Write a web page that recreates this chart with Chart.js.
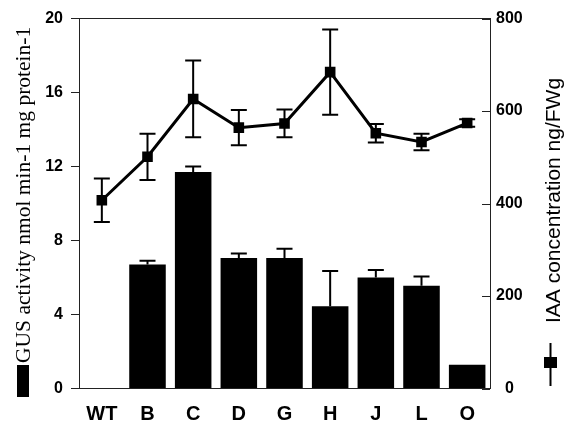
<!DOCTYPE html>
<html>
<head>
<meta charset="utf-8">
<script src="https://cdn.jsdelivr.net/npm/chart.js@4"></script>
<style>
    body { margin: 0; background: #fff; }
    #wrap { width: 569px; height: 424px; }
</style>
</head>
<body>
<div id="wrap"><canvas id="gusChart" width="569" height="424"></canvas></div>
<script>
// data
const categories = ['WT', 'B', 'C', 'D', 'G', 'H', 'J', 'L', 'O'];
const gusActivity = [null, 6.7, 11.7, 7.05, 7.05, 4.45, 6.0, 5.55, 1.28];
const gusError = [null, 0.2, 0.3, 0.25, 0.5, 1.9, 0.4, 0.5, 0];
const iaaConc = [407, 501, 626, 564, 573, 684, 552, 533, 574];
const iaaError = [47, 50, 83, 38, 30, 92, 20, 18, 8];
const gusTicks = [0, 4, 8, 12, 16, 20];
const iaaTicks = [0, 200, 400, 600, 800];

const gusTitle = 'GUS activity nmol min-1 mg protein-1';
const iaaTitle = 'IAA concentration ng/FWg';

// error bars, inner ticks, axis titles with legend keys
const extrasPlugin = {
    id: 'extras',
    afterDatasetDraw(chart, args) {
        const ctx = chart.ctx;
        const meta = args.meta;
        const isBar = meta.type === 'bar';
        const scale = chart.scales[isBar ? 'y' : 'y2'];
        const values = isBar ? gusActivity : iaaConc;
        const errs = isBar ? gusError : iaaError;
        ctx.save();
        ctx.strokeStyle = '#000';
        ctx.lineWidth = 2;
        meta.data.forEach((el, i) => {
            if (values[i] == null || !errs[i]) return;
            const x = el.x;
            const yTop = scale.getPixelForValue(values[i] + errs[i]);
            const yBot = isBar ? el.y : scale.getPixelForValue(values[i] - errs[i]);
            ctx.beginPath();
            ctx.moveTo(x, yBot);
            ctx.lineTo(x, yTop);
            ctx.moveTo(x - 8, yTop);
            ctx.lineTo(x + 8, yTop);
            if (!isBar) {
                ctx.moveTo(x - 8, yBot);
                ctx.lineTo(x + 8, yBot);
            }
            ctx.stroke();
        });
        ctx.restore();
    },
    afterDraw(chart) {
        const ctx = chart.ctx;
        const area = chart.chartArea;
        const y2 = chart.scales.y2;
        ctx.save();
        ctx.strokeStyle = '#222';
        ctx.lineWidth = 1;
        // top frame line
        ctx.beginPath();
        ctx.moveTo(area.left, area.top);
        ctx.lineTo(area.right, area.top);
        ctx.stroke();
        // right axis ticks point inward
        iaaTicks.forEach(v => {
            const y = Math.round(y2.getPixelForValue(v)) + 0.5;
            ctx.beginPath();
            ctx.moveTo(area.right - 8, y);
            ctx.lineTo(area.right, y);
            ctx.stroke();
        });

        ctx.fillStyle = '#000';
        // left title + bar key
        ctx.save();
        ctx.translate(29.5, 363);
        ctx.rotate(-Math.PI / 2);
        ctx.font = '21.5px "Liberation Serif", serif';
        ctx.textAlign = 'left';
        ctx.textBaseline = 'alphabetic';
        ctx.fillText(gusTitle, 0, 0);
        ctx.restore();
        ctx.fillRect(17, 365, 12, 32);

        // right title + line key
        ctx.save();
        ctx.translate(560, 323);
        ctx.rotate(-Math.PI / 2);
        ctx.font = '21px "Liberation Sans", Arial, sans-serif';
        ctx.textAlign = 'left';
        ctx.textBaseline = 'alphabetic';
        ctx.fillText(iaaTitle, 0, 0);
        ctx.restore();
        ctx.strokeStyle = '#000';
        ctx.lineWidth = 2;
        ctx.beginPath();
        ctx.moveTo(550.5, 343);
        ctx.lineTo(550.5, 386);
        ctx.stroke();
        ctx.fillRect(544, 357, 13, 11);
        ctx.restore();
    }
};

const tickFont = { family: '"Liberation Sans", Arial, sans-serif', size: 16, weight: 'bold' };

new Chart(document.getElementById('gusChart'), {
    data: {
        labels: categories,
        datasets: [{
            type: 'line',
            label: 'IAA concentration',
            data: iaaConc,
            yAxisID: 'y2',
            borderColor: '#000',
            backgroundColor: '#000',
            borderWidth: 3,
            pointStyle: 'rect',
            pointRadius: 7.5,
            pointBorderWidth: 0,
            tension: 0,
            order: 0
        }, {
            type: 'bar',
            label: 'GUS activity',
            data: gusActivity,
            yAxisID: 'y',
            backgroundColor: '#000',
            barPercentage: 0.8,
            categoryPercentage: 1.0,
            order: 1
        }]
    },
    options: {
        responsive: false,
        animation: false,
        devicePixelRatio: 1,
        layout: { padding: { top: 18.5, left: 0, right: 0, bottom: 0 } },
        plugins: {
            legend: { display: false },
            tooltip: { enabled: false }
        },
        scales: {
            x: {
                grid: { display: false, drawTicks: false },
                border: { display: true, color: '#222', width: 1 },
                ticks: {
                    color: '#000',
                    padding: 14,
                    font: { family: '"Liberation Sans", Arial, sans-serif', size: 20, weight: 'bold' }
                },
                afterFit(scale) { scale.height = 35.5; }
            },
            y: {
                position: 'left',
                min: 0,
                max: 20,
                afterBuildTicks(scale) { scale.ticks = gusTicks.map(v => ({ value: v })); },
                grid: { drawOnChartArea: false, tickLength: 8, color: '#222' },
                border: { display: true, color: '#222', width: 1 },
                ticks: { color: '#000', padding: 8, font: tickFont },
                afterFit(scale) { scale.width = 79; }
            },
            y2: {
                position: 'right',
                min: 0,
                max: 800,
                afterBuildTicks(scale) { scale.ticks = iaaTicks.map(v => ({ value: v })); },
                grid: { display: false, drawTicks: false },
                border: { display: true, color: '#222', width: 1 },
                ticks: { color: '#000', padding: 6, crossAlign: 'center', font: tickFont },
                afterFit(scale) { scale.width = 79; }
            }
        }
    },
    plugins: [extrasPlugin]
});
</script>
</body>
</html>
